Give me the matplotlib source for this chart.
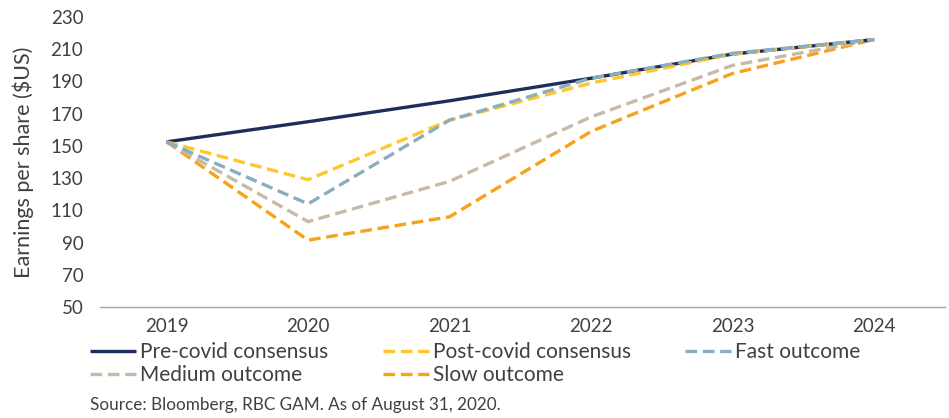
import matplotlib
matplotlib.use("Agg")
import matplotlib.pyplot as plt

years = ["2019", "2020", "2021", "2022", "2023", "2024"]
pre_covid = [152.5, 165, 178, 192, 207, 216]
post_covid = [152.5, 129, 166, 189, 207, 216]
fast = [152.5, 114, 166, 192, 207.5, 216]
medium = [152.5, 103, 128, 168, 200, 216]
slow = [152.5, 91.5, 106, 159, 195, 216]

series_names = ["Pre-covid consensus", "Post-covid consensus", "Fast outcome",
                "Medium outcome", "Slow outcome"]
yticks = [50, 70, 90, 110, 130, 150, 170, 190, 210, 230]

plt.rcParams['font.family'] = ['Lato', 'DejaVu Sans']
text_color = "#404040"

fig = plt.figure(figsize=(9.49, 4.18), dpi=100)
ax = fig.add_axes([100/949, 1 - 307/418, 845/949, 290/418])

x = list(range(len(years)))
dash = (3.5, 1.7)
h0, = ax.plot(x, pre_covid, color="#1f2d5c", lw=2.4, solid_capstyle="butt", label=series_names[0], zorder=3)
h1, = ax.plot(x, post_covid, color="#ffc72c", lw=2.4, dashes=dash, label=series_names[1], zorder=4)
h2, = ax.plot(x, fast, color="#8aaebf", lw=2.4, dashes=dash, label=series_names[2], zorder=5)
h3, = ax.plot(x, medium, color="#c8baa8", lw=2.4, dashes=dash, label=series_names[3], zorder=2)
h4, = ax.plot(x, slow, color="#f7a21b", lw=2.4, dashes=dash, label=series_names[4], zorder=1)

ax.set_xlim(-0.47, 5.5)
ax.set_ylim(50, 230)
ax.set_yticks(yticks)
ax.set_xticks(x)
ax.set_xticklabels(years)
ax.tick_params(axis="both", length=0, labelsize=13.5, colors=text_color)
ax.tick_params(axis="y", pad=12)
ax.tick_params(axis="x", pad=8)
for s in ["top", "right", "left"]:
    ax.spines[s].set_visible(False)
ax.spines["bottom"].set_color("#a6a6a6")
ax.spines["bottom"].set_linewidth(1.0)

ax.set_ylabel("Earnings per share ($US)", fontsize=15.5, color=text_color)
ax.yaxis.set_label_coords(-66/845, 0.5)

# row-major order: matplotlib fills columns first
order = [h0, h3, h1, h4, h2]
leg = fig.legend(order, [h.get_label() for h in order], ncol=3, loc="upper left",
                 bbox_to_anchor=(82/949, 1 - 334/418), frameon=False,
                 fontsize=15, handlelength=2.2, handletextpad=0.2,
                 columnspacing=2.6, labelspacing=0.15, borderaxespad=0)
for t in leg.get_texts():
    t.set_color(text_color)

fig.text(90/949, 1 - 410/418, "Source: Bloomberg, RBC GAM. As of August 31, 2020.",
         fontsize=12.3, color=text_color, va="baseline", ha="left")

fig.savefig("out.png", dpi=100)
